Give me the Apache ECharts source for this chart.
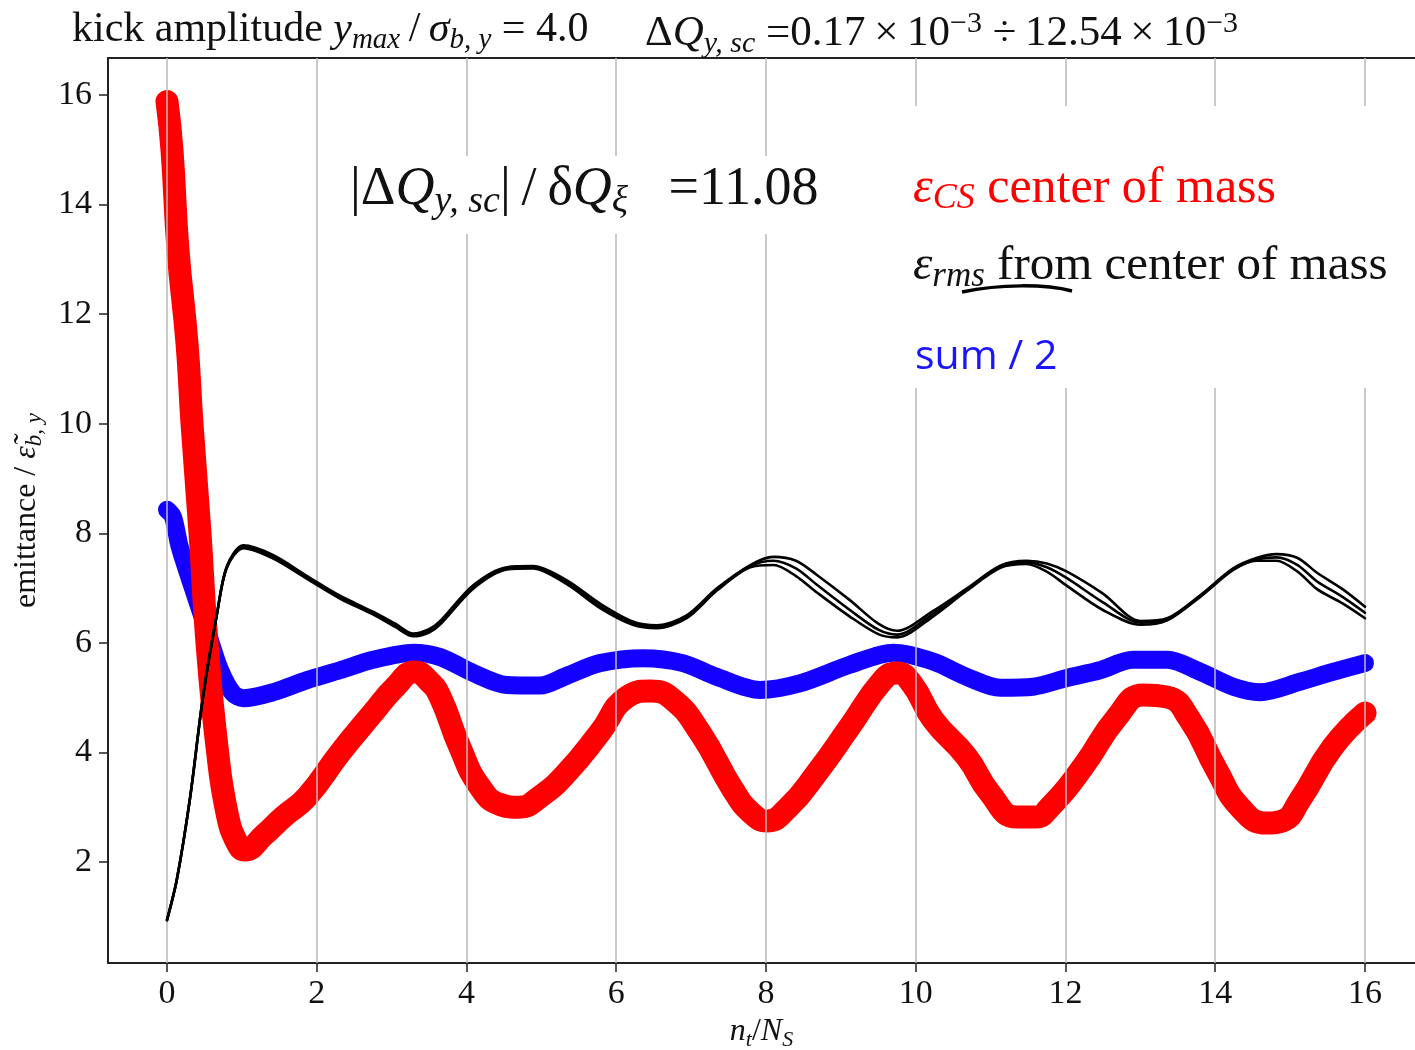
<!DOCTYPE html>
<html><head><meta charset="utf-8">
<script src="https://cdn.jsdelivr.net/npm/echarts@6/dist/echarts.min.js"></script>
<style>html,body{margin:0;padding:0;background:#fff}#c{width:1415px;height:1050px}</style>
</head><body><div id="c"></div>
<script>
const xTicks = [0, 2, 4, 6, 8, 10, 12, 14, 16];
const yTicks = [2, 4, 6, 8, 10, 12, 14, 16];

// epsilon_CS (center of mass) - red
const xRed = [0, 0.067, 0.147, 0.267, 0.334, 0.441, 0.534, 0.668, 0.8, 0.935, 1.04, 1.3, 1.55, 1.87, 2.31, 2.75, 3.05, 3.31, 3.5, 3.65, 3.91, 4.18, 4.45, 4.7, 4.98, 5.34, 5.78, 6.14, 6.45, 6.76, 7.12, 7.56, 7.8, 8.01, 8.3, 8.68, 9.12, 9.56, 9.75, 9.95, 10.23, 10.68, 10.99, 11.35, 11.6, 11.79, 12.23, 12.69, 13.04, 13.36, 13.66, 14.02, 14.33, 14.69, 14.9, 15.13, 15.57, 16.0];
const yRed = [15.88, 14.99, 13.17, 11.47, 10.0, 8.0, 6.0, 4.1, 2.9, 2.35, 2.22, 2.5, 2.82, 3.19, 3.99, 4.72, 5.2, 5.47, 5.3, 5.01, 4.1, 3.37, 3.05, 3.0, 3.19, 3.63, 4.36, 5.01, 5.12, 4.96, 4.36, 3.32, 2.9, 2.75, 3.0, 3.63, 4.47, 5.32, 5.45, 5.25, 4.6, 3.92, 3.26, 2.82, 2.82, 3.0, 3.73, 4.65, 5.05, 5.01, 4.6, 3.68, 3.0, 2.71, 2.75, 3.13, 4.1, 4.72];

// epsilon_rms from center of mass - black (several runs)
const xBlack = [0, 0.13, 0.31, 0.48, 0.67, 0.8, 1.02, 1.42, 1.87, 2.31, 2.75, 3.05, 3.29, 3.5, 3.65, 4.09, 4.54, 4.89, 5.34, 5.78, 6.22, 6.54, 6.94, 7.34, 7.79, 8.1, 8.4, 8.68, 9.12, 9.5, 9.75, 10.23, 10.68, 11.13, 11.48, 11.75, 12.02, 12.5, 13.0, 13.36, 13.8, 14.24, 14.55, 14.82, 15.1, 15.36, 15.7, 16.0];
const yBlackA = [0.94, 1.67, 3.19, 5.01, 6.55, 7.4, 7.78, 7.6, 7.22, 6.86, 6.57, 6.35, 6.17, 6.25, 6.4, 7.05, 7.38, 7.4, 7.14, 6.72, 6.39, 6.32, 6.5, 6.99, 7.42, 7.57, 7.5, 7.24, 6.78, 6.35, 6.22, 6.58, 6.99, 7.41, 7.5, 7.45, 7.3, 6.9, 6.4, 6.45, 6.87, 7.36, 7.55, 7.62, 7.55, 7.28, 6.98, 6.66];
const yBlackB = [0.94, 1.67, 3.19, 5.01, 6.55, 7.37, 7.73, 7.54, 7.17, 6.81, 6.52, 6.29, 6.12, 6.19, 6.34, 6.99, 7.34, 7.36, 7.07, 6.64, 6.33, 6.27, 6.45, 6.95, 7.38, 7.42, 7.22, 6.92, 6.48, 6.16, 6.1, 6.48, 6.95, 7.37, 7.44, 7.3, 7.04, 6.6, 6.33, 6.41, 6.84, 7.33, 7.5, 7.5, 7.3, 6.98, 6.72, 6.45];
const yBlackC = [0.94, 1.67, 3.19, 5.01, 6.55, 7.39, 7.76, 7.57, 7.2, 6.84, 6.55, 6.32, 6.15, 6.22, 6.37, 7.02, 7.36, 7.38, 7.1, 6.67, 6.36, 6.3, 6.48, 6.97, 7.4, 7.5, 7.36, 7.06, 6.6, 6.24, 6.15, 6.53, 6.97, 7.4, 7.47, 7.38, 7.18, 6.74, 6.37, 6.43, 6.86, 7.34, 7.52, 7.56, 7.42, 7.12, 6.84, 6.55];

// sum / 2 - blue
const xBlue = [0, 0.08, 0.17, 0.31, 0.53, 0.71, 0.88, 1.02, 1.42, 1.87, 2.31, 2.75, 3.29, 3.65, 4.09, 4.54, 4.98, 5.34, 5.78, 6.36, 6.89, 7.34, 7.92, 8.45, 9.12, 9.7, 10.23, 10.68, 11.13, 11.57, 12.02, 12.46, 12.9, 13.36, 13.8, 14.24, 14.6, 15.13, 15.57, 16.0];
const yBlue = [8.43, 8.3, 7.75, 7.15, 6.24, 5.5, 5.08, 4.99, 5.1, 5.32, 5.5, 5.69, 5.82, 5.74, 5.45, 5.23, 5.22, 5.4, 5.63, 5.72, 5.63, 5.38, 5.14, 5.26, 5.6, 5.82, 5.66, 5.38, 5.18, 5.2, 5.36, 5.5, 5.69, 5.69, 5.47, 5.2, 5.1, 5.29, 5.47, 5.63];

const SERIF = '"Liberation Serif", "Times New Roman", serif';
const SANS = '"Open Sans", "Noto Sans", sans-serif';
const pair = (xs, ys) => xs.map((x, i) => [x, ys[i]]);

function richSet(size, color, subSize, shift) {
  return {
    n: {fontFamily: SERIF, fontSize: size, color: color},
    i: {fontFamily: SERIF, fontSize: size, color: color, fontStyle: 'italic'},
    sub: {fontFamily: SERIF, fontSize: subSize, color: color, fontStyle: 'italic', padding: [shift, 0, 0, 0]},
    sup: {fontFamily: SERIF, fontSize: subSize, color: color, padding: [0, 0, shift, 0]}
  };
}

const chart = echarts.init(document.getElementById('c'), null, {renderer: 'canvas'});
const blackStyle = {color: '#000', width: 2.6, cap: 'round', join: 'round'};
const lineCommon = {smooth: 0.3, showSymbol: false};
const option = {
  animation: false,
  backgroundColor: '#fff',
  grid: {left: 108, right: 0, top: 58, bottom: 87, outerBoundsMode: 'none'},
  xAxis: [{
    type: 'value', min: -0.788, max: 16.668, position: 'bottom',
    axisLine: {onZero: false, lineStyle: {color: '#222', width: 2}},
    axisTick: {show: true, customValues: xTicks, length: 9, lineStyle: {color: '#222', width: 1.5}},
    axisLabel: {customValues: xTicks, fontFamily: SERIF, fontSize: 34, color: '#111', margin: 14},
    splitLine: {show: false},
    name: '{i|n}{sub|t}{n|/}{i|N}{sub|S}',
    nameLocation: 'middle', nameGap: 44,
    nameTextStyle: {fontFamily: SERIF, fontSize: 32, color: '#111', rich: richSet(32, '#111', 22, 16)}
  }, {
    type: 'value', min: -0.788, max: 16.668, position: 'top',
    axisLine: {show: true, onZero: false, lineStyle: {color: '#222', width: 2}},
    axisTick: {show: false}, axisLabel: {show: false}, splitLine: {show: false}
  }],
  yAxis: {
    type: 'value', min: 0.157, max: 16.675,
    axisLine: {show: true, onZero: false, lineStyle: {color: '#222', width: 2}},
    axisTick: {show: true, customValues: yTicks, length: 9, lineStyle: {color: '#222', width: 1.5}},
    axisLabel: {customValues: yTicks, fontFamily: SERIF, fontSize: 34, color: '#111', margin: 16},
    splitLine: {show: false},
    name: '{n|emittance / }{i|ε̃}{sub|b, y}',
    nameLocation: 'middle', nameRotate: 90, nameGap: 62,
    nameTextStyle: {fontFamily: SERIF, fontSize: 32, color: '#111', rich: richSet(32, '#111', 23, 16)}
  },
  series: [
    {type: 'line', data: [], z: 1, silent: true,
     markLine: {silent: true, symbol: 'none', label: {show: false},
       lineStyle: {color: '#b8b8b8', width: 1.5, type: 'solid'},
       data: xTicks.map(v => ({xAxis: v}))}},
    Object.assign({type: 'line', data: pair(xBlue, yBlue), z: 3,
     lineStyle: {color: '#1400ff', width: 18, cap: 'round', join: 'round'}}, lineCommon),
    {type: 'line', data: pair(xRed, yRed), z: 4, smooth: 0.5, showSymbol: false,
     lineStyle: {color: '#ff0000', width: 23, cap: 'round', join: 'round'}},
    Object.assign({type: 'line', data: pair(xBlack, yBlackA), z: 5, lineStyle: blackStyle}, lineCommon),
    Object.assign({type: 'line', data: pair(xBlack, yBlackB), z: 5, lineStyle: blackStyle}, lineCommon),
    Object.assign({type: 'line', data: pair(xBlack, yBlackC), z: 5, lineStyle: blackStyle}, lineCommon)
  ],
  graphic: [
    {type: 'text', left: 72, top: 9, z: 100, style: {
      text: 'kick amplitude {i|y}{sub|max}{n|\u2009/\u2009}{i|σ}{sub|b, y}{n| = 4.0}',
      fontFamily: SERIF, fontSize: 42, fill: '#111', rich: richSet(42, '#111', 29, 20)}},
    {type: 'text', left: 645, top: 9, z: 100, style: {
      text: '{n|Δ}{i|Q}{sub|y, sc}{n| =0.17\u2009×\u200910}{sup|−3}{n| ÷\u200912.54\u2009×\u200910}{sup|−3}',
      fontFamily: SERIF, fontSize: 43, fill: '#111', rich: richSet(43, '#111', 30, 20)}},
    {type: 'rect', shape: {x: 343, y: 156, width: 482, height: 78}, z: 90, style: {fill: '#fff'}},
    {type: 'text', left: 350, top: 163, z: 100, style: {
      text: '{n||Δ}{i|Q}{sub|y, sc}{n||\u2009/\u2009δ}{i|Q}{sub|ξ}{n|   =11.08}',
      fontFamily: SERIF, fontSize: 54, fill: '#111', rich: richSet(54, '#111', 38, 24)}},
    {type: 'rect', shape: {x: 903, y: 106, width: 512, height: 282}, z: 90, style: {fill: '#fff'}},
    {type: 'text', left: 913, top: 164, z: 100, style: {
      text: '{i|ε}{sub|CS}{n| center of mass}',
      fontFamily: SERIF, fontSize: 50, fill: '#ff0000', rich: richSet(50, '#ff0000', 36, 20)}},
    {type: 'text', left: 913, top: 242, z: 100, style: {
      text: '{i|ε}{sub|rms}{n| from center of mass}',
      fontFamily: SERIF, fontSize: 49, fill: '#111', rich: richSet(49, '#111', 35, 20)}},
    {type: 'bezierCurve', z: 101, shape: {x1: 962, y1: 292, x2: 1072, y2: 291, cpx1: 1000, cpy1: 284, cpx2: 1045, cpy2: 284},
     style: {stroke: '#000', lineWidth: 3.5, fill: null}},
    {type: 'text', left: 915, top: 337, z: 100, style: {
      text: 'sum / 2', fontFamily: SANS, fontSize: 41, fill: '#1a14ff'}}
  ]
};
chart.setOption(option);
</script></body></html>
